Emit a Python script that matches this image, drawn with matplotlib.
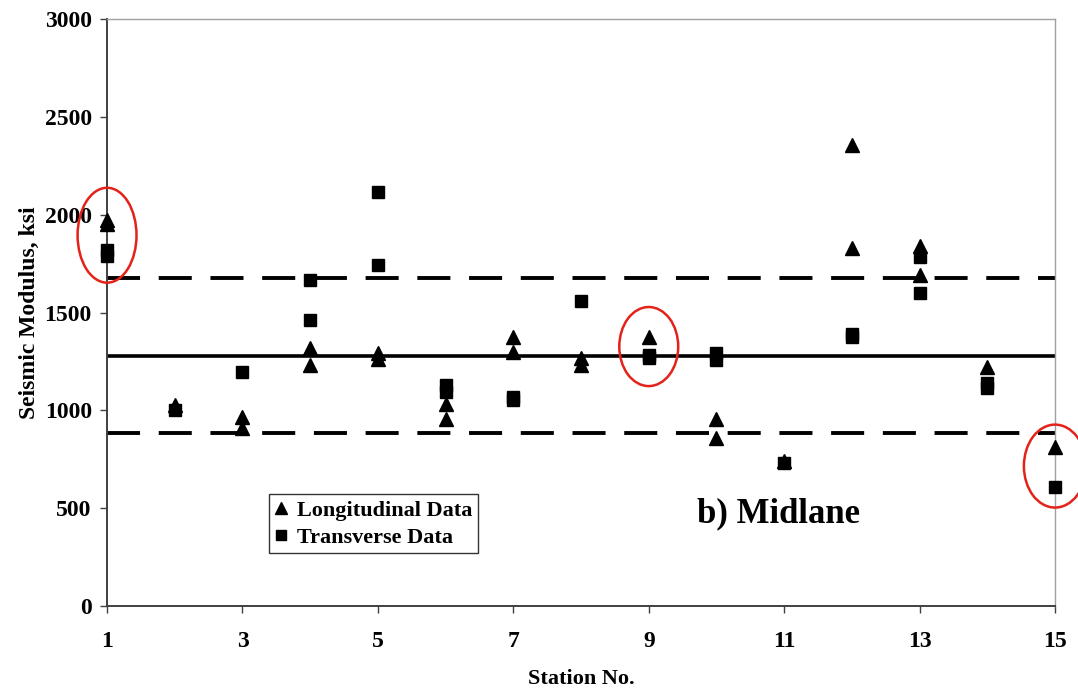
import matplotlib
matplotlib.use("Agg")
import matplotlib.pyplot as plt
from matplotlib.patches import Ellipse

plt.rcParams["font.family"] = ["Liberation Serif", "DejaVu Serif"]

# longitudinal data (triangles)
long_station = [1, 1, 2, 3, 3, 4, 4, 5, 5, 6, 6, 7, 7, 8, 8, 9, 10, 10, 11, 12, 12, 13, 13, 14, 15]
long_modulus = [1975, 1950, 1025, 965, 910, 1318, 1230, 1295, 1262, 1030, 958, 1375, 1298,
                1270, 1232, 1375, 958, 860, 740, 2355, 1830, 1840, 1690, 1220, 812]

# transverse data (squares)
trans_station = [1, 1, 2, 3, 4, 4, 5, 5, 6, 6, 7, 7, 8, 9, 9, 10, 10, 11, 12, 12, 13, 13, 14, 14, 15]
trans_modulus = [1820, 1790, 1000, 1195, 1665, 1460, 2115, 1745, 1130, 1095, 1068, 1052, 1560,
                 1285, 1270, 1295, 1255, 730, 1390, 1375, 1785, 1598, 1140, 1115, 608]

mean_val = 1280
band = 395

# circled stations: (station, centre value, width in stations, height in ksi)
circles = [(1, 1895, 0.87, 485), (9, 1326, 0.87, 404), (15, 715, 0.92, 424)]

fig = plt.figure(figsize=(10.78, 6.92), dpi=100)
ax = fig.add_axes([0.0993, 0.1243, 0.8794, 0.8482])

ax.axhline(mean_val, color="black", lw=2.6, zorder=2)
for v in (mean_val + band, mean_val - band):
    ax.axhline(v, color="black", lw=2.8, dashes=(8.5, 4.8), zorder=2)

ax.plot(long_station, long_modulus, "^", color="black", ms=10, ls="none",
        label="Longitudinal Data", zorder=3, clip_on=False)
ax.plot(trans_station, trans_modulus, "s", color="black", ms=8.5, ls="none",
        label="Transverse Data", zorder=3, clip_on=False)

for sx, sy, w, h in circles:
    ax.add_patch(Ellipse((sx, sy), w, h, fill=False, edgecolor="#e32219", lw=1.8,
                         clip_on=False, zorder=4))

ax.set_xlim(1, 15)
ax.set_ylim(0, 3000)
ax.set_xticks(range(1, 16, 2))
ax.set_yticks(range(0, 3001, 500))
ax.tick_params(direction="out", length=5, width=1, color="#404040", labelsize=17)
ax.tick_params(axis="x", pad=13)
ax.tick_params(axis="y", pad=6)
for lab in ax.get_xticklabels() + ax.get_yticklabels():
    lab.set_fontweight("bold")

for side in ("left", "bottom"):
    ax.spines[side].set_color("#404040")
    ax.spines[side].set_linewidth(1.4)
for side in ("top", "right"):
    ax.spines[side].set_color("#a0a0a0")
    ax.spines[side].set_linewidth(1.0)

ax.set_xlabel("Station No.", fontsize=16, fontweight="bold", labelpad=12)
ax.set_ylabel("Seismic Modulus, ksi", fontsize=17, fontweight="bold", labelpad=3)

leg = ax.legend(loc="upper left", bbox_to_anchor=(0.171, 0.19),
                prop={"weight": "bold", "size": 16}, frameon=True, fancybox=False,
                handlelength=0.6, handletextpad=0.4, borderpad=0.25, labelspacing=0.3,
                borderaxespad=0, markerscale=0.9)
leg.get_frame().set_edgecolor("black")
leg.get_frame().set_linewidth(1.0)

ax.text(9.71, 470, "b) Midlane", fontsize=25, fontweight="bold", ha="left", va="center")

fig.savefig("out.png", dpi=100)
